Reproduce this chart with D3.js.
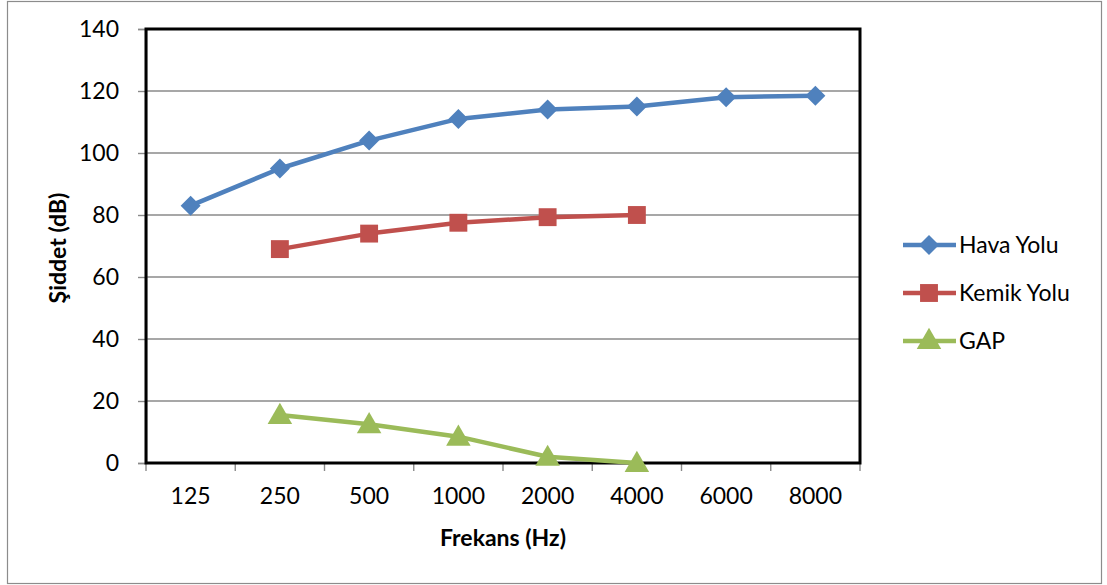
<!DOCTYPE html>
<html>
<head>
<meta charset="utf-8">
<script src="https://cdn.jsdelivr.net/npm/d3@7"></script>
<style>
  html, body { margin: 0; padding: 0; background: #fff; }
  svg { display: block; font-family: Lato, "Open Sans", "Liberation Sans", sans-serif; }
</style>
</head>
<body>
<svg id="chart" width="1107" height="585"></svg>
<script>
// Frequencies (Hz) on the category axis
const categories = ["125", "250", "500", "1000", "2000", "4000", "6000", "8000"];

// Hearing thresholds (dB) per series; null where no measurement exists
const havaYolu  = [83, 95, 104, 111, 114, 115, 118, 118.5];
const kemikYolu = [null, 69, 74, 77.5, 79.3, 80, null, null];
const gap       = [null, 15.5, 12.5, 8.5, 2, 0, null, null];

const yTicks = [0, 20, 40, 60, 80, 100, 120, 140];

const seriesNames  = ["Hava Yolu", "Kemik Yolu", "GAP"];
const seriesValues = [havaYolu, kemikYolu, gap];
const seriesColors = ["#4F81BD", "#C0504D", "#9BBB59"];

const FONT = 23;

// Marker shapes: wide diamond, square, triangle
const diamond = { draw(ctx, size) { const r = Math.sqrt(size / 2);
  ctx.moveTo(0, -r); ctx.lineTo(r, 0); ctx.lineTo(0, r); ctx.lineTo(-r, 0); ctx.closePath(); } };
const seriesShapes = [diamond, d3.symbolSquare, d3.symbolTriangle];
const symbolSize = [200, 320, 260];

const svg = d3.select("#chart");
const W = 1107, H = 585;
const plot = { left: 146, right: 860, top: 29, bottom: 463 };

// Outer frame
svg.append("rect")
  .attr("x", 7.5).attr("y", 1.5)
  .attr("width", W - 13).attr("height", H - 3)
  .attr("fill", "#fff").attr("stroke", "#8c8c8c").attr("stroke-width", 1.2);

const x = d3.scaleBand().domain(categories).range([plot.left, plot.right]);
const y = d3.scaleLinear().domain([0, 140]).range([plot.bottom, plot.top]);

// Horizontal gridlines
svg.append("g")
  .selectAll("line")
  .data(yTicks.filter(t => t > 0 && t < 140))
  .join("line")
  .attr("x1", plot.left).attr("x2", plot.right)
  .attr("y1", d => y(d)).attr("y2", d => y(d))
  .attr("stroke", "#8a8a8a").attr("stroke-width", 1.6);

// Y axis
const yAxis = svg.append("g")
  .attr("transform", `translate(${plot.left},0)`)
  .call(d3.axisLeft(y).tickValues(yTicks).tickSize(8).tickPadding(19));
yAxis.select(".domain").attr("stroke", "#8a8a8a").attr("stroke-width", 1.6);
yAxis.selectAll(".tick line").attr("stroke", "#8a8a8a").attr("stroke-width", 1.4);
yAxis.selectAll(".tick text")
  .attr("font-size", FONT).attr("fill", "#000")
  .style("font-family", "Lato, 'Open Sans', sans-serif");

// X axis with ticks on category boundaries
const boundaries = categories.map(c => x(c)).concat([plot.right]);
const xAxisG = svg.append("g").attr("transform", `translate(0,${plot.bottom})`);
xAxisG.append("line")
  .attr("x1", plot.left).attr("x2", plot.right)
  .attr("stroke", "#8a8a8a").attr("stroke-width", 1.6);
xAxisG.selectAll("line.tk")
  .data(boundaries)
  .join("line").attr("class", "tk")
  .attr("x1", d => d).attr("x2", d => d)
  .attr("y1", 0).attr("y2", 8)
  .attr("stroke", "#8a8a8a").attr("stroke-width", 1.4);
xAxisG.selectAll("text")
  .data(categories)
  .join("text")
  .attr("x", d => x(d) + x.bandwidth() / 2)
  .attr("y", 41)
  .attr("text-anchor", "middle")
  .attr("font-size", FONT)
  .text(d => d);

// Plot area border
svg.append("rect")
  .attr("x", plot.left).attr("y", plot.top)
  .attr("width", plot.right - plot.left).attr("height", plot.bottom - plot.top)
  .attr("fill", "none").attr("stroke", "#000").attr("stroke-width", 3);

// Series lines and markers
const cx = i => x(categories[i]) + x.bandwidth() / 2;
const line = d3.line()
  .defined(d => d != null)
  .x((d, i) => cx(i))
  .y(d => y(d));

seriesValues.forEach((vals, s) => {
  svg.append("path")
    .datum(vals)
    .attr("d", line)
    .attr("fill", "none")
    .attr("stroke", seriesColors[s])
    .attr("stroke-width", 4.5)
    .attr("stroke-linejoin", "round");
});

seriesValues.forEach((vals, s) => {
  const pts = vals.map((v, i) => ({ v, i })).filter(d => d.v != null);
  svg.append("g").selectAll("path")
    .data(pts)
    .join("path")
    .attr("transform", d => `translate(${cx(d.i)},${y(d.v) + (s === 2 ? 2 : 0)})`)
    .attr("d", d3.symbol().type(seriesShapes[s]).size(symbolSize[s]))
    .attr("fill", seriesColors[s]);
});

// Axis titles
svg.append("text")
  .attr("x", 503).attr("y", 546)
  .attr("text-anchor", "middle")
  .attr("font-size", FONT).attr("font-weight", "bold")
  .text("Frekans (Hz)");

svg.append("text")
  .attr("transform", "translate(66,248) rotate(-90)")
  .attr("text-anchor", "middle")
  .attr("font-size", FONT).attr("font-weight", "bold")
  .text("Şiddet (dB)");

// Legend
const legend = svg.append("g");
seriesNames.forEach((name, s) => {
  const ly = 245 + s * 48;
  legend.append("line")
    .attr("x1", 903).attr("x2", 956)
    .attr("y1", ly).attr("y2", ly)
    .attr("stroke", seriesColors[s]).attr("stroke-width", 4.5);
  legend.append("path")
    .attr("transform", `translate(929,${ly + (s === 2 ? 1 : 0)})`)
    .attr("d", d3.symbol().type(seriesShapes[s]).size(symbolSize[s]))
    .attr("fill", seriesColors[s]);
  legend.append("text")
    .attr("x", 959).attr("y", ly + 8)
    .attr("font-size", FONT)
    .text(name);
});
</script>
</body>
</html>
